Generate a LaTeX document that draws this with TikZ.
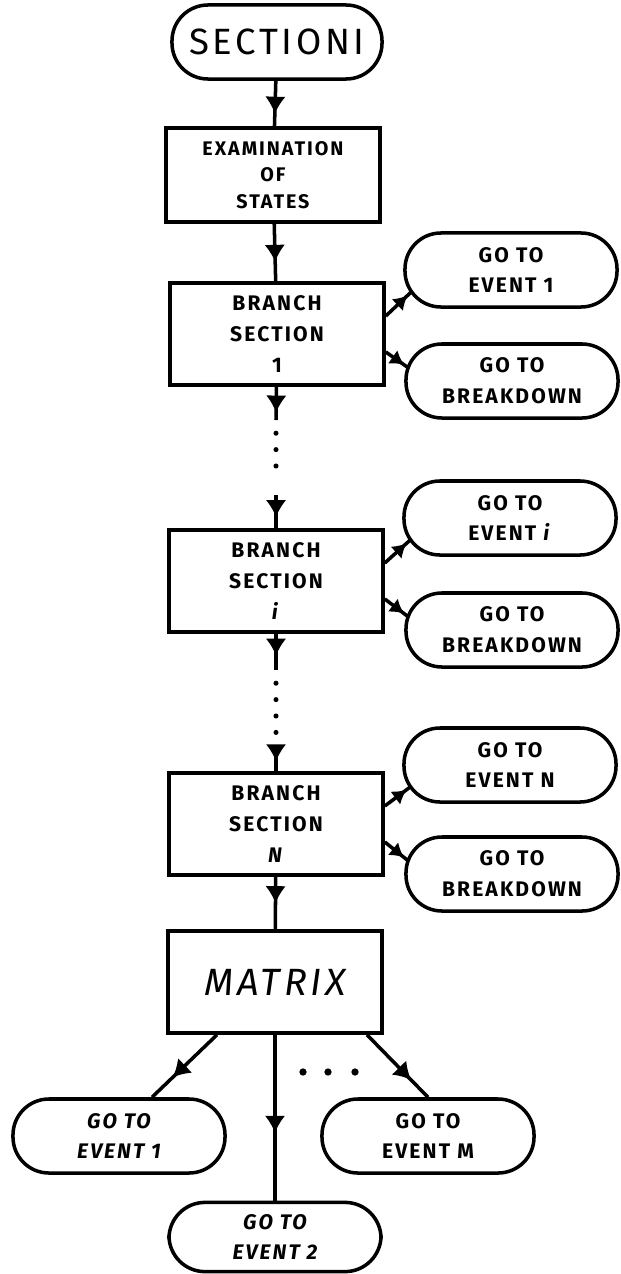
\documentclass[tikz,border=0pt]{standalone}
\usepackage{fontspec}
\setmainfont{Fira Sans}[LetterSpace=10]
\usetikzlibrary{arrows.meta,calc,decorations.markings}

\begin{document}
\begin{tikzpicture}[
  x=0.025cm,y=-0.025cm,>=Latex,
  link/.style={draw=black,line width=2.5pt},
  midarr/.style={link,postaction={decorate},decoration={markings,
      mark=at position #1 with {\arrow[line width=1pt]{Latex[length=4.2mm,width=5mm]}}}},
  midarr/.default=0.6,
  sidearr/.style={link,postaction={decorate},decoration={markings,
      mark=at position 0.85 with {\arrow[line width=1pt]{Latex[length=3.4mm,width=4mm]}}}},
  dots/.style={line width=3.6pt,line cap=round,dash pattern=on 0pt off 4.1mm,
      shorten <=3.3mm,shorten >=3.3mm},
  procbox/.style={draw,line width=2.5pt,minimum width=5.35cm,minimum height=2.55cm,
      align=center,inner sep=1mm,font=\bfseries\fontsize{15}{22}\selectfont},
  term/.style={draw,line width=2.5pt,rounded corners=0.9cm,minimum width=5.3cm,
      minimum height=1.85cm,align=center,inner sep=0pt,font=\bfseries\fontsize{15}{22}\selectfont}
]
\useasboundingbox (0,0) rectangle (620,1274);
% ---------- main column
\node[term,minimum width=5.25cm,font=\fontsize{26}{30}\selectfont] (sec) at (277,42) {SECTIONI};
\node[procbox,minimum height=2.35cm,font=\bfseries\fontsize{14}{19}\selectfont] (exam) at (273,175) {EXAMINATION\\OF\\STATES};
\node[procbox] (br1) at (277,334) {BRANCH\\SECTION\\1};
\node[procbox] (bri) at (276,581) {BRANCH\\SECTION\\\textit{i}};
\node[procbox] (brn) at (276,824) {BRANCH\\SECTION\\\textit{N}};
\node[procbox,font=\itshape\fontsize{27}{30}\selectfont] (matrix) at (275,982) {MATRIX};
% ---------- exits on the right
\node[term] (ev1) at (511,270) {GO TO\\EVENT 1};
\node[term] (bd1) at (512,381) {GO TO\\BREAKDOWN};
\node[term] (evi) at (510,518) {GO TO\\EVENT \textit{i}};
\node[term] (bdi) at (512,630) {GO TO\\BREAKDOWN};
\node[term] (evn) at (510,765) {GO TO\\EVENT N};
\node[term] (bdn) at (512,874) {GO TO\\BREAKDOWN};
% ---------- exits below the matrix
\node[term,font=\bfseries\itshape\fontsize{15}{22}\selectfont] (mev1) at (119,1136) {GO TO\\EVENT 1};
\node[term,minimum height=1.73cm,font=\bfseries\itshape\fontsize{15}{22}\selectfont] (mev2) at (275,1237) {GO TO\\EVENT 2};
\node[term] (mevm) at (428,1136) {GO TO\\EVENT M};
% ---------- gaps in the column
\coordinate (s1) at (276,420);
\coordinate (t1) at (276,495);
\coordinate (s2) at (276,670);
\coordinate (t2) at (276,746);
% ---------- connectors
\draw[midarr=0.72] (sec) -- (exam);
\draw[midarr=0.66] (exam) -- (br1);
\draw[midarr=0.77] (br1) -- (s1);
\draw[dots] (s1) -- (t1);
\draw[midarr=0.66] (t1) -- (bri);
\draw[midarr=0.6] (bri) -- (s2);
\draw[dots] (s2) -- (t2);
\draw[midarr=0.6] (t2) -- (brn);
\draw[midarr=0.5] (brn) -- (matrix);
\draw[sidearr] ($(br1.east)+(0,-18)$) -- ($(ev1.west)+(8,22)$);
\draw[sidearr] ($(br1.east)+(0,18)$) -- ($(bd1.west)+(3,-14)$);
\draw[sidearr] ($(bri.east)+(0,-18)$) -- ($(evi.west)+(8,22)$);
\draw[sidearr] ($(bri.east)+(0,18)$) -- ($(bdi.west)+(3,-14)$);
\draw[sidearr] ($(brn.east)+(0,-18)$) -- ($(evn.west)+(8,22)$);
\draw[sidearr] ($(brn.east)+(0,18)$) -- ($(bdn.west)+(3,-14)$);
\draw[midarr=0.68] ($(matrix.south)+(-58,0)$) -- ($(mev1.north)+(33,0)$);
\draw[midarr=0.59] (matrix.south) -- (mev2.north);
\draw[midarr=0.72] ($(matrix.south)+(92,0)$) -- (mevm.north);
\foreach \dx in {303,328,355} \fill (\dx,1072) circle (2.6pt);
\end{tikzpicture}
\end{document}
